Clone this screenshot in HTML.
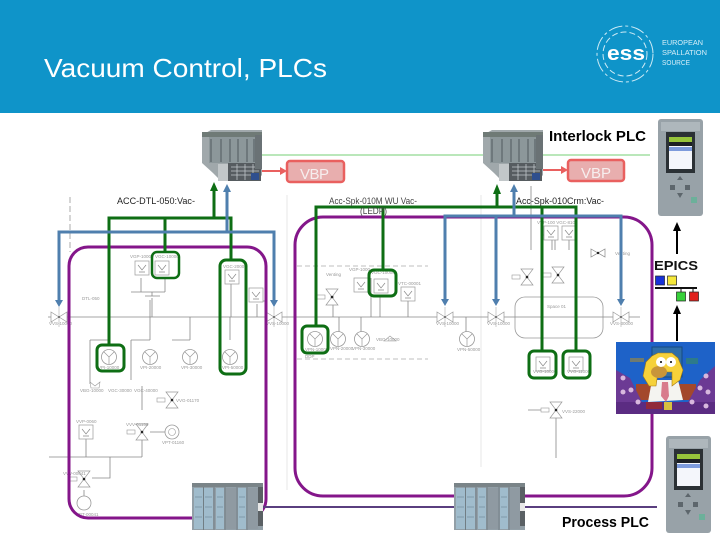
<!DOCTYPE html>
<html><head><meta charset="utf-8"><style>
html,body{margin:0;padding:0;background:#fff}
svg{display:block}
text{font-family:"Liberation Sans",sans-serif}
.t{font-size:4.5px;fill:#999}
.s{fill:none;stroke:#888;stroke-width:.8}
</style></head><body>
<svg width="720" height="540" viewBox="0 0 720 540" xmlns="http://www.w3.org/2000/svg">
<defs>
<g id="v"><path d="M-8-5 L8 5 V-5 L-8 5Z" fill="#fff" stroke="#999" stroke-width=".7"/><path d="M0-10V10" stroke="#aaa" stroke-width=".6"/><circle r="1" fill="#666"/></g>
<g id="p"><circle r="7.5" fill="#fff" stroke="#999" stroke-width=".8"/><path d="M0 0L-5-5M0 0L5-5M0 0V7" stroke="#999" stroke-width=".7"/></g>
<g id="g"><rect x="-7" y="-7" width="14" height="14" fill="#fff" stroke="#999" stroke-width=".7"/><path d="M-4-3L0 2L4-3M-3 4H3" fill="none" stroke="#888" stroke-width=".7"/></g>
<g id="iv"><path d="M-6-8L6 8H-6L6-8Z" fill="#fff" stroke="#999" stroke-width=".7"/><circle r="1.3" fill="#222"/><rect x="-15" y="-2" width="8" height="4" fill="#fff" stroke="#999" stroke-width=".6"/></g>
<g id="plc1">
<path d="M1 6L10 1H61V46L56 52H27L18 50L12 44L1 34Z" fill="#a0a8ab"/>
<rect x="1" y="3" width="60" height="5" fill="#6f7a76"/>
<rect x="8" y="8" width="46" height="26" fill="#8c979a"/>
<path d="M10 10V33M20 10V33M29 10V33M37 10V33M46 10V33M53 10V33" stroke="#4f5a5e" stroke-width="1"/>
<rect x="17" y="35" width="12" height="17" fill="#c2c7c9"/>
<rect x="27" y="34" width="33" height="18" fill="#565c60"/>
<path d="M30 38H58M30 42H58M30 46H58M36 35V51M44 35V51M52 35V51" stroke="#c0c6ca" stroke-width=".8"/>
<rect x="50" y="44" width="8" height="7" fill="#2f4f8e"/>
<rect x="54" y="6" width="7" height="34" fill="#6a7275"/>
</g>
<g id="plc2">
<rect width="71" height="47" fill="#929fa7"/>
<rect width="71" height="4" fill="#7a8488"/>
<rect x="2" y="5" width="9" height="41" fill="#a0bccc"/><rect x="12" y="5" width="9" height="41" fill="#a0bccc"/><rect x="24" y="5" width="8" height="41" fill="#a0bccc"/>
<rect x="46" y="5" width="8" height="41" fill="#a0bccc"/>
<rect x="33" y="5" width="11" height="41" fill="#8f9aa2"/><rect x="56" y="5" width="10" height="41" fill="#8f9aa2"/>
<path d="M11.500 4V47M22 4V47M33 4V47M45 4V47M55 4V47" stroke="#69767c" stroke-width=".8"/>
<path d="M3 14H10M13 14H20M25 14H31M47 14H53M3 24H10M13 24H20M25 24H31M47 24H53M3 34H10M13 34H20M25 34H31M47 34H53" stroke="#7f9aaa" stroke-width="1"/>
<rect x="66" y="4" width="5" height="39" fill="#5a6064"/><rect x="66" y="20" width="5" height="8" fill="#e8e8e8"/>
</g>
<g id="hmi">
<rect x="0" y="0" width="45" height="97" rx="3" fill="#98a2a8"/>
<rect x="3" y="3" width="39" height="9" fill="#aeb7bc"/>
<rect x="8" y="13" width="29" height="41" fill="#2b3135"/>
<rect x="11" y="18" width="23" height="5" fill="#96c43b"/>
<rect x="11" y="23" width="23" height="4" fill="#1c2024"/>
<rect x="11" y="27" width="23" height="23" fill="#f4f6fb"/>
<rect x="11" y="28" width="23" height="4" fill="#7d9bdc"/>
<path d="M22 57L19 61H25ZM12 66H17V71H12ZM27 66H32V71H27ZM19 74H25L22 79Z" fill="#5d666c"/>
<rect x="33" y="78" width="6" height="6" fill="#6cb09a"/>
</g>
</defs>

<rect width="720" height="113" fill="#0f94c9"/>
<text x="44" y="77" font-size="26" fill="#fff" textLength="283" lengthAdjust="spacingAndGlyphs">Vacuum Control, PLCs</text>
<g fill="none" stroke="#cdeaf5" stroke-width="1">
<circle cx="625" cy="54" r="28" stroke-dasharray="14 3 3 3"/>
<circle cx="625" cy="54" r="22" stroke-dasharray="6 3"/>
</g>
<text x="607" y="60" font-size="20" font-weight="bold" fill="#fff" textLength="38" lengthAdjust="spacingAndGlyphs">ess</text>
<g font-size="7" fill="#d6eef8">
<text x="662" y="45" textLength="41" lengthAdjust="spacingAndGlyphs">EUROPEAN</text>
<text x="662" y="55" textLength="45" lengthAdjust="spacingAndGlyphs">SPALLATION</text>
<text x="662" y="65" textLength="28" lengthAdjust="spacingAndGlyphs">SOURCE</text>
</g>

<!-- schematic -->
<g stroke="#e2e2e2" stroke-width=".8"><path d="M287 195V490M481 195V467"/></g>
<path d="M70 197V252" stroke="#888" stroke-width=".7" stroke-dasharray="6 3"/>
<path d="M297 266H428M297 359H428" stroke="#aaa" stroke-width=".7" stroke-dasharray="5 3"/>
<rect x="515" y="297" width="88" height="41" rx="10" fill="none" stroke="#999" stroke-width=".8"/>
<path class="s" d="M48 317H640"/>
<g class="s">
<path d="M150 317V340M190 317V340M230 317V340M109 317V340M90 340H109M90 340V384M131 340H150M131 340V380M172 340H190M150 300V317M152 298V317M131 292H165M141 278V292M165 278V292M152 292V296M145 296H160"/>
<path d="M231 275V317M257 304V317M251 301H265"/>
<path d="M339 317V332M361 317V332M333 290V317M371 278V317M408 300V317M466 317V332M380 296V317"/>
<path d="M531 186V250M541 235H552M555 232V250M542 310M546 235"/>
<path d="M86 439V457M49 457H142M142 438V457M110 457V478H92M84 490V496M150 432H165M142 386V410"/>
<path d="M528 410H545M556 418V458"/>
<path d="M545 229H556M552 229V250M569 229V250"/>
</g>
<use href="#v" x="59" y="317"/><use href="#v" x="274" y="317"/><use href="#v" x="445" y="317"/><use href="#v" x="496" y="317"/><use href="#v" x="621" y="317"/>
<use href="#p" x="109" y="357"/><use href="#p" x="150" y="357"/><use href="#p" x="190" y="357"/><use href="#p" x="230" y="357"/>
<use href="#p" x="315" y="339"/><use href="#p" x="338" y="339"/><use href="#p" x="362" y="339"/><use href="#p" x="467" y="339"/>
<use href="#g" x="142" y="268"/><use href="#g" x="162" y="268"/><use href="#g" x="232" y="277"/><use href="#g" x="86" y="432"/><use href="#g" x="361" y="285"/><use href="#g" x="381" y="286"/><use href="#g" x="408" y="294"/><use href="#g" x="551" y="233"/><use href="#g" x="569" y="233"/><use href="#g" x="543" y="364"/><use href="#g" x="576" y="364"/>
<use href="#g" x="256" y="295"/>
<use href="#iv" x="172" y="400"/><use href="#iv" x="142" y="432"/><use href="#iv" x="84" y="479"/><use href="#iv" x="332" y="297"/><use href="#iv" x="527" y="277"/><use href="#iv" x="558" y="275"/><use href="#iv" x="556" y="410"/>
<path d="M591 249L605 257V249L591 257Z" fill="#fff" stroke="#888" stroke-width=".7"/><circle cx="598" cy="253" r="1.200" fill="#222"/>
<circle cx="172" cy="432" r="7" fill="#fff" stroke="#999" stroke-width=".8"/><circle cx="172" cy="432" r="3.500" fill="none" stroke="#999" stroke-width=".6"/>
<circle cx="84" cy="503" r="7" fill="#fff" stroke="#999" stroke-width=".8"/>
<path d="M91 388L90 382L95 386L100 382L99 388ZM384 341L390 336L396 341Z" fill="#fff" stroke="#999" stroke-width=".6"/>
<g class="t">
<text x="130" y="258">VGP-10000</text><text x="155" y="258">VGC-10000</text><text x="223" y="268">VGC-20000</text><text x="82" y="300">DTL-050</text>
<text x="49" y="325">VVS-10000</text><text x="266" y="325">VVS-10000</text><text x="98" y="369">VPI-10000</text><text x="140" y="369">VPI-20000</text><text x="181" y="369">VPI-30000</text><text x="222" y="369">VPI-50000</text>
<text x="80" y="392">VBG-10000</text><text x="108" y="392">VGC-30000</text><text x="134" y="392">VGC-40000</text><text x="176" y="402">VVG-01170</text>
<text x="76" y="423">VVP-0060</text><text x="126" y="426">VVV-01150</text><text x="162" y="444">VPT-01160</text><text x="63" y="475">VVV-00041</text><text x="76" y="516">VPT-00041</text>
<text x="326" y="276">Venting</text><text x="349" y="271">VGP-1000</text><text x="371" y="274">VGC-10000</text><text x="398" y="285">VTC-00001</text>
<text x="436" y="325">VVS-10000</text><text x="487" y="325">VVS-10000</text><text x="610" y="325">VVS-30000</text><text x="305" y="351">VPN-10000</text><text x="330" y="350">VPN-20000</text><text x="352" y="350">VPN-30000</text><text x="376" y="341">VBG-10000</text><text x="457" y="351">VPN-50000</text>
<text x="305" y="358">DDP</text><text x="537" y="224">VVP-100 VGC-8100</text><text x="615" y="255">Venting</text><text x="547" y="308">Space 01</text>
<text x="533" y="373">VVG-10000</text><text x="567" y="373">VVG-11000</text><text x="562" y="413">VVS-22000</text>
</g>

<!-- purple -->
<rect x="69" y="247" width="197" height="271" rx="19" fill="none" stroke="#84168a" stroke-width="3"/>
<rect x="295" y="217" width="357" height="279" rx="28" fill="none" stroke="#84168a" stroke-width="3"/>
<path d="M263 507H657" stroke="#5a3f7f" stroke-width="2"/>

<!-- top lines -->
<path d="M262 155H650" stroke="#74cf74" stroke-width="1"/>
<rect x="287" y="161" width="57" height="21" rx="3" fill="#e8aeae" stroke="#e9605f" stroke-width="2.500"/>
<rect x="568" y="160" width="56" height="21" rx="3" fill="#e8aeae" stroke="#e9605f" stroke-width="2.500"/>
<text x="300" y="179" font-size="15" fill="#f6eeee" textLength="29">VBP</text>
<text x="581" y="178" font-size="15" fill="#f6eeee" textLength="30">VBP</text>
<path d="M262 171H281M543 170H562" stroke="#e9605f" stroke-width="2"/>
<path d="M280 167L287 171L280 175ZM561 166L568 170L561 174Z" fill="#e9605f"/>

<!-- green -->
<g fill="none" stroke="#0e6e14">
<path d="M109 344V218H231V260M165 218V252M214 218V188" stroke-width="3"/>
<rect x="152" y="252" width="27" height="26" rx="5" stroke-width="2.500"/>
<rect x="220" y="260" width="26" height="114" rx="6" stroke-width="3"/>
<rect x="97" y="345" width="27" height="26" rx="5" stroke-width="3"/>
<path d="M316 326V207H576V351M383 207V270M497 207V188M542 207V351" stroke-width="3"/>
<rect x="302" y="326" width="26" height="27" rx="5" stroke-width="3"/>
<rect x="369" y="270" width="27" height="26" rx="5" stroke-width="3"/>
<rect x="529" y="351" width="27" height="27" rx="5" stroke-width="3"/>
<rect x="563" y="351" width="27" height="27" rx="5" stroke-width="3"/>
</g>
<path d="M214 182L210 191H218ZM497 184L493 194H501Z" fill="#0e6e14"/>

<!-- blue -->
<g fill="none" stroke="#4f7fae" stroke-width="3">
<path d="M59 300V232H274V300M227 232V190M445 300V216H621V300M496 216V300M514 216V190"/>
</g>
<g fill="#4f7fae">
<path d="M227 184L223 192H231ZM514 184L510 192H518ZM55 300H63L59 307ZM270 300H278L274 307ZM441 299H449L445 306ZM492 299H500L496 306ZM617 299H625L621 306Z"/>
</g>

<!-- PLCs -->
<use href="#plc1" x="201" y="129"/><use href="#plc1" x="482" y="129"/>
<use href="#plc2" x="192" y="483"/><use href="#plc2" x="454" y="483"/>
<use href="#hmi" x="658" y="119"/><use href="#hmi" x="666" y="436"/>

<!-- labels -->
<text x="117" y="204" font-size="9.500" fill="#222" textLength="78" lengthAdjust="spacingAndGlyphs">ACC-DTL-050:Vac-</text>
<text x="329" y="204" font-size="9.500" fill="#444" textLength="88" lengthAdjust="spacingAndGlyphs">Acc-Spk-010M WU Vac-</text>
<text x="360" y="214" font-size="9" fill="#444" textLength="27" lengthAdjust="spacingAndGlyphs">(LEDP)</text>
<text x="516" y="204" font-size="9.500" fill="#222" textLength="88" lengthAdjust="spacingAndGlyphs">Acc-Spk-010Crm:Vac-</text>
<text x="549" y="141" font-size="15" font-weight="bold" fill="#000" textLength="97" lengthAdjust="spacingAndGlyphs">Interlock PLC</text>
<text x="562" y="527" font-size="15" font-weight="bold" fill="#000" textLength="87" lengthAdjust="spacingAndGlyphs">Process PLC</text>

<!-- EPICS -->
<path d="M677 254V226M677 341V310" stroke="#000" stroke-width="2"/>
<path d="M677 222L673 231H681ZM677 305L673 314H681Z" fill="#000"/>
<text x="654" y="270" font-size="13" font-weight="bold" fill="#111" textLength="44" lengthAdjust="spacingAndGlyphs">EPICS</text>
<rect x="655.500" y="276" width="9" height="9" fill="#1732d8" stroke="#222" stroke-width=".7"/>
<rect x="667.500" y="276" width="9" height="9" fill="#f5e83a" stroke="#222" stroke-width=".7"/>
<path d="M655 288H697" stroke="#111" stroke-width="2"/>
<path d="M681 288V292M693 288V292" stroke="#111"/>
<rect x="676.500" y="292" width="9" height="9" fill="#37d03a" stroke="#222" stroke-width=".7"/>
<rect x="689.500" y="292" width="9" height="9" fill="#e0221e" stroke="#222" stroke-width=".7"/>

<!-- cartoon scene -->
<svg x="616" y="342" width="99" height="72" viewBox="0 0 99 72">
<rect width="99" height="72" fill="#1e62c8"/>
<rect x="36" y="5" width="30" height="30" fill="#2f6ea8" stroke="#174a80"/>
<rect x="14" y="16" width="14" height="4" fill="#6e7a70"/><rect x="70" y="16" width="12" height="6" fill="#2d7a8a"/>
<path d="M20 42H80V58H20Z" fill="#a3482c"/>
<path d="M0 28L14 36L26 60L42 72H0Z" fill="#6c3a94"/>
<path d="M99 24L84 38L72 60L60 72H99Z" fill="#6c3a94"/>
<path d="M0 60H99V72H0Z" fill="#5b2c82"/>
<g fill="#d8b8de"><circle cx="7" cy="36" r="2.500"/><circle cx="15" cy="48" r="2.500"/><circle cx="7" cy="50" r="2.500"/><circle cx="22" cy="60" r="2.500"/><circle cx="90" cy="34" r="2.500"/><circle cx="84" cy="46" r="2.500"/><circle cx="92" cy="50" r="2.500"/><circle cx="76" cy="60" r="2.500"/><circle cx="90" cy="64" r="2.500"/></g>
<path d="M32 60L36 38H62L67 58Z" fill="#f4f4f0"/>
<path d="M46 40L52 40L53 54L50 60L45 54Z" fill="#d87c8c"/>
<path d="M27 34L30 20L36 14L42 11L56 11L62 16L67 28L64 38L56 44L56 30H42L40 44L33 44Z" fill="#f6d13a" stroke="#a87a10" stroke-width=".6"/>
<ellipse cx="43" cy="30" rx="8" ry="6" fill="#c8953a"/>
<circle cx="45" cy="20" r="5" fill="#fff"/><circle cx="55" cy="20" r="5" fill="#fff"/>
<circle cx="45" cy="20" r="1" fill="#000"/><circle cx="55" cy="20" r="1" fill="#000"/>
<rect x="30" y="60" width="16" height="7" fill="#912a3c"/><rect x="48" y="60" width="8" height="8" fill="#d8c040"/>
</svg>
</svg>
</body></html>
